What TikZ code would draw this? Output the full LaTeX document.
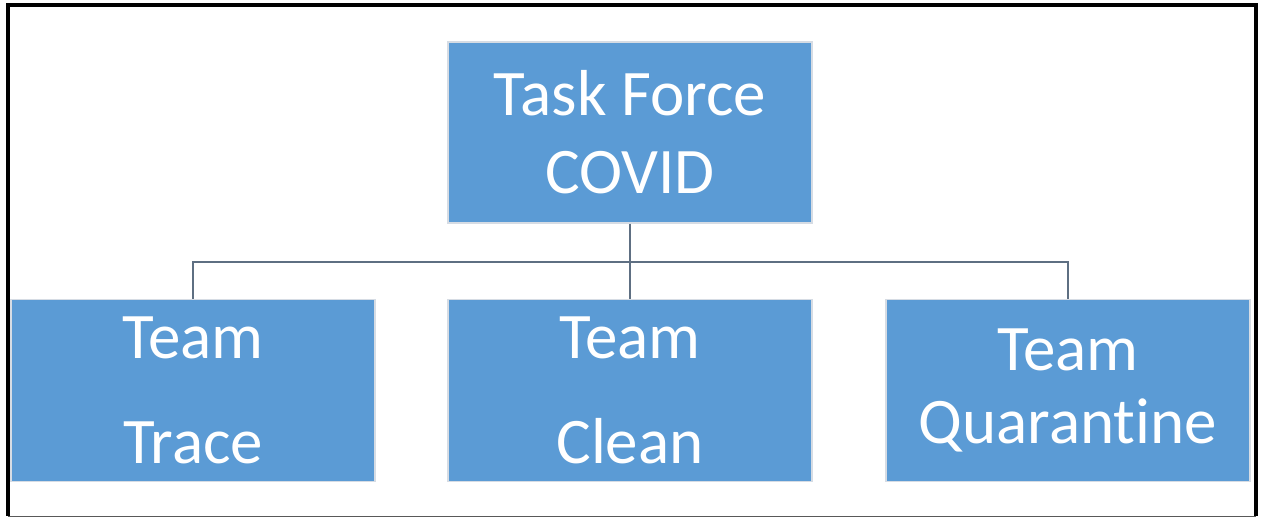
\documentclass[tikz,border=0pt]{standalone}
\usepackage{fontspec}
\setmainfont{Carlito}[Ligatures={NoCommon}]
\definecolor{boxblue}{HTML}{5B9BD5}
\definecolor{boxedge}{HTML}{D6DCE4}
\definecolor{conn}{HTML}{5E6F82}
\begin{document}
\begin{tikzpicture}[x=1pt,y=1pt,
  orgbox/.style={rectangle, fill=boxblue, draw=boxedge, line width=1.5pt,
    minimum width=364pt, minimum height=182pt, inner sep=0pt,
    text=white, align=center},
  conline/.style={draw=conn, line width=1.6pt}]
\useasboundingbox (0,0) rectangle (1263,518);
\fill[white] (0,0) rectangle (1263,518);
% frame
\draw[black, line width=4pt] (8,2) -- (8,512.5) -- (1256,512.5) -- (1256,2);
\draw[gray!70!black, line width=1.5pt] (8,1.5) -- (1256,1.5);
% boxes
\node[orgbox, minimum height=181pt, font=\fontsize{65}{78}\selectfont] (top) at (630,385.5) {Task Force\\COVID};
\node[orgbox, font=\fontsize{65}{105}\selectfont] (trace) at (193,127.5) {Team\\Trace};
\node[orgbox, font=\fontsize{65}{105}\selectfont] (clean) at (630,127.5) {Team\\Clean};
\node[orgbox, font=\fontsize{65}{73}\selectfont] (quar) at (1068,127.5) {Team\\Quarant\kern0pt ine};
% connectors
\coordinate (bus) at (630,256);
\draw[conline] (top.south) -- (clean.north);
\draw[conline] (trace.north) |- (bus) -| (quar.north);
\end{tikzpicture}
\end{document}
